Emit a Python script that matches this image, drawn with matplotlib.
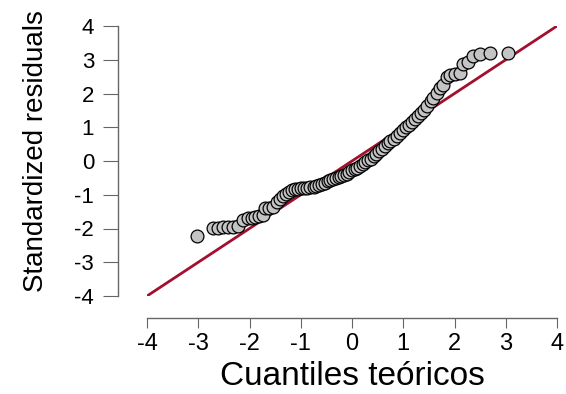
import matplotlib
matplotlib.use("Agg")
import matplotlib.pyplot as plt

plt.rcParams['font.family'] = ['Liberation Sans', 'DejaVu Sans']
plt.rcParams['axes.unicode_minus'] = False

# theoretical quantiles and standardized residuals
teoricos = [-3.02, -2.71, -2.61, -2.52, -2.42, -2.32, -2.22, -2.13, -2.03, -1.96,
            -1.89, -1.81, -1.74, -1.70, -1.62, -1.54, -1.46, -1.40, -1.34, -1.28,
            -1.22, -1.17, -1.11, -1.05, -0.99, -0.93, -0.87, -0.81, -0.75, -0.70,
            -0.64, -0.58, -0.53, -0.47, -0.42, -0.37, -0.32, -0.26, -0.21, -0.16,
            -0.10, -0.05, 0.00, 0.05, 0.10, 0.16, 0.21, 0.26, 0.32, 0.37,
            0.42, 0.47, 0.53, 0.58, 0.64, 0.70, 0.75, 0.81, 0.87, 0.93,
            0.99, 1.05, 1.11, 1.17, 1.22, 1.28, 1.34, 1.40, 1.46, 1.54,
            1.58, 1.66, 1.72, 1.77, 1.85, 1.91, 2.01, 2.11, 2.17, 2.27,
            2.36, 2.50, 2.69, 3.04]
residuos = [-2.22, -1.99, -1.99, -1.97, -1.96, -1.95, -1.94, -1.75, -1.70, -1.68,
            -1.66, -1.64, -1.60, -1.40, -1.38, -1.35, -1.22, -1.12, -1.05, -0.98,
            -0.92, -0.86, -0.84, -0.82, -0.81, -0.80, -0.79, -0.78, -0.77, -0.74,
            -0.70, -0.67, -0.65, -0.60, -0.55, -0.52, -0.50, -0.47, -0.44, -0.41,
            -0.38, -0.33, -0.28, -0.24, -0.20, -0.14, -0.08, -0.02, 0.03, 0.07,
            0.14, 0.22, 0.30, 0.36, 0.43, 0.52, 0.58, 0.65, 0.73, 0.82,
            0.91, 1.00, 1.08, 1.17, 1.25, 1.34, 1.43, 1.52, 1.64, 1.78,
            1.87, 2.01, 2.16, 2.25, 2.48, 2.54, 2.57, 2.60, 2.88, 2.92,
            3.12, 3.18, 3.19, 3.19]
ticks = [-4, -3, -2, -1, 0, 1, 2, 3, 4]

fig = plt.figure(figsize=(5.66, 3.94), dpi=100)
ax = fig.add_axes([147 / 566, 98 / 394, 410 / 566, 270 / 394])

ax.scatter(teoricos, residuos, s=85, facecolor='#c4c4c4', edgecolor='black',
           linewidth=0.9, zorder=3)
ax.plot([-4, 4], [-4, 4], color='#a3102e', linewidth=2, zorder=2)

ax.set_xlim(-4, 4)
ax.set_ylim(-4, 4)
ax.set_xticks(ticks)
ax.set_yticks(ticks)

for side in ['top', 'right']:
    ax.spines[side].set_visible(False)
ax.spines['left'].set_position(('outward', 21))
ax.spines['bottom'].set_position(('outward', 16))
ax.spines['left'].set_bounds(-4, 4)
ax.spines['bottom'].set_bounds(-4, 4)
for side in ['left', 'bottom']:
    ax.spines[side].set_color('#666666')
    ax.spines[side].set_linewidth(1)

ax.tick_params(axis='x', length=7, color='#666666', labelsize=17, pad=4)
ax.tick_params(axis='y', length=11, color='#666666', labelsize=16, pad=6)

ax.set_xlabel('Cuantiles teóricos', fontsize=24)
ax.set_ylabel('Standardized residuals', fontsize=20)
ax.xaxis.set_label_coords(0.5, -0.24)
ax.yaxis.set_label_coords(-0.24, 0.537)

fig.savefig('out.png', dpi=100)
